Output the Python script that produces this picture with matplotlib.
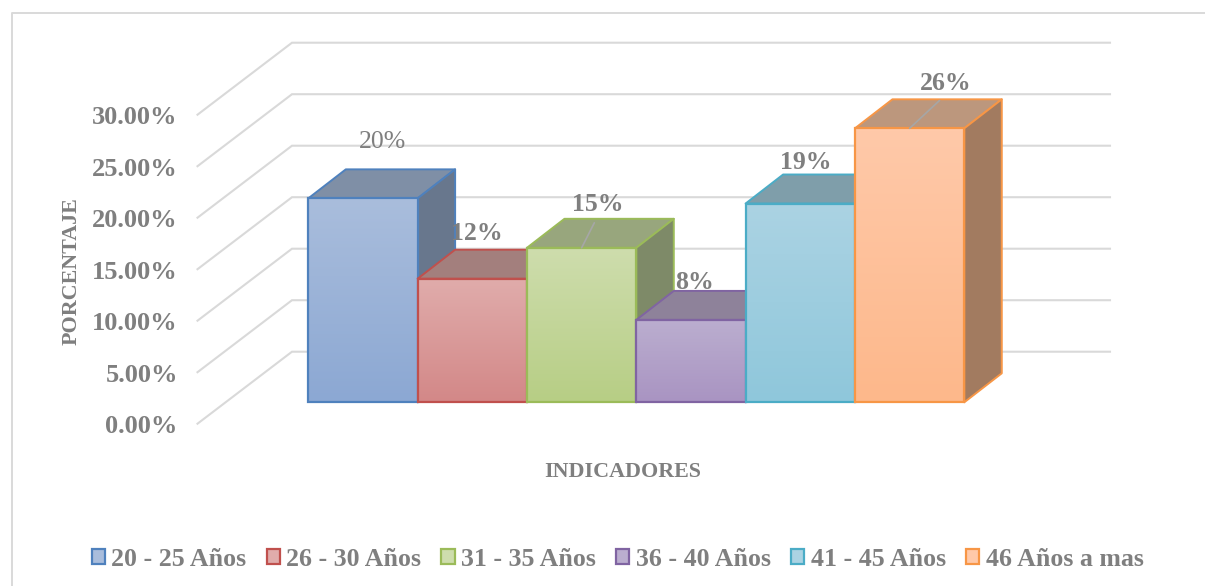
import matplotlib
matplotlib.use("Agg")
import matplotlib.pyplot as plt
import matplotlib.patches as mpatches
import matplotlib.colors as mcolors
import numpy as np

categories = ["20 - 25 Años", "26 - 30 Años", "31 - 35 Años", "36 - 40 Años", "41 - 45 Años", "46 Años a mas"]
heights = [19.8, 12.0, 15.0, 8.0, 19.3, 26.6]
value_labels = ["20%", "12%", "15%", "8%", "19%", "26%"]
y_ticks = [0, 5, 10, 15, 20, 25, 30]
y_tick_labels = ["0.00%", "5.00%", "10.00%", "15.00%", "20.00%", "25.00%", "30.00%"]

# colours per series
edge_colors = ["#4F81BD", "#C0504D", "#9BBB59", "#8064A2", "#4BACC6", "#F79646"]
grad_top = ["#A9BDDC", "#E0ACAB", "#CEDDAD", "#BBAECF", "#ABD3E3", "#FFC9A9"]
grad_bottom = ["#8CA8D3", "#D38888", "#B7CE85", "#A994C2", "#8FC7DB", "#FDB88B"]
top_colors = ["#7F8FA6", "#A37F7D", "#98A67D", "#8E829A", "#7F9EAA", "#BC977D"]
side_colors = ["#68778D", "#8B6A68", "#7E8A68", "#75687F", "#688590", "#A27B60"]

# label placement relative to the top of each bar, in pixels
label_dx = [20, 5, 16, 4, 5, 36]
label_dy = [56, 45, 43, 37, 41, 45]
label_weights = ["normal", "bold", "bold", "bold", "bold", "bold"]
has_leader = [False, False, True, False, False, True]

W, H = 1205, 586
GREY = "#7F7F7F"
FONT = "Liberation Serif"

# one axes over the whole figure, 1 category = 109.33px and 1% = 10.3px
PX_X = 109.33
PX_Y = 10.3
X0, Y0 = 308.3, 402.3

fig = plt.figure(figsize=(W / 100, H / 100), dpi=100)
ax = fig.add_axes([0, 0, 1, 1])
xlim = (-X0 / PX_X, (W - X0) / PX_X)
ylim = (-(H - Y0) / PX_Y, Y0 / PX_Y)
ax.axis("off")

# chart frame, left and top only
fig.add_artist(plt.Line2D([11.5 / W, 11.5 / W, 1], [0, 1 - 12.5 / H, 1 - 12.5 / H], color="#D9D9D9", lw=1.4))

# depth of walls and bars in data units
wall_x = (292 - X0) / PX_X
wall_y = (Y0 - 351.7) / PX_Y
floor_x = (197.5 - X0) / PX_X
floor_y = (Y0 - 423.7) / PX_Y
wall_right = (1110 - X0) / PX_X
bar_dx = 37.5 / PX_X
bar_dy = 29 / PX_Y

for t, lab in zip(y_ticks, y_tick_labels):
    ax.plot([floor_x, wall_x, wall_right], [floor_y + t, wall_y + t, wall_y + t],
            color="#D9D9D9", lw=1.5, zorder=1, solid_joinstyle="miter")
    ax.text(floor_x - 0.18, floor_y + t - 0.3, lab, ha="right", va="center", color=GREY,
            fontsize=19, fontweight="bold", family=FONT, zorder=10)

for i, h in enumerate(heights):
    z = 2 + i
    top = mpatches.Polygon([(i, h), (i + bar_dx, h + bar_dy), (i + 1 + bar_dx, h + bar_dy), (i + 1, h)],
                           facecolor=top_colors[i], edgecolor=edge_colors[i], lw=1.4, zorder=z, joinstyle="round")
    side = mpatches.Polygon([(i + 1, 0), (i + 1 + bar_dx, bar_dy), (i + 1 + bar_dx, h + bar_dy), (i + 1, h)],
                            facecolor=side_colors[i], edgecolor=edge_colors[i], lw=1.4, zorder=z, joinstyle="round")
    ax.add_patch(top)
    ax.add_patch(side)
    # front face with a vertical gradient
    cmap = mcolors.LinearSegmentedColormap.from_list("g%d" % i, [grad_top[i], grad_bottom[i]])
    ax.imshow(np.linspace(0, 1, 64).reshape(-1, 1), cmap=cmap, extent=(i, i + 1, 0, h),
              aspect="auto", origin="upper", zorder=z, interpolation="bilinear")
    front = mpatches.Rectangle((i, 0), 1, h, facecolor="none", edgecolor=edge_colors[i], lw=1.6, zorder=z)
    ax.add_patch(front)

for i, h in enumerate(heights):
    arrow = None
    if has_leader[i]:
        arrow = dict(arrowstyle="-", color="#A6A6A6", lw=1.2, shrinkA=3, shrinkB=0, relpos=(0.5, 0))
    ax.annotate(value_labels[i], xy=(i + 0.5, h), xytext=(label_dx[i], label_dy[i]), textcoords="offset pixels",
                ha="center", va="center", color=GREY, fontsize=18.5, fontweight=label_weights[i],
                family=FONT, arrowprops=arrow, zorder=12)

ax.set_xlim(xlim)
ax.set_ylim(ylim)

fig.text(623 / W, 1 - 472 / H, "INDICADORES", ha="center", va="center", color=GREY,
         fontsize=15.8, fontweight="bold", family=FONT)
fig.text(71.5 / W, 1 - 271 / H, "PORCENTAJE", ha="center", va="center", rotation=90, color=GREY,
         fontsize=15.8, fontweight="bold", family=FONT)

handles = [mpatches.Patch(facecolor=grad_top[i], edgecolor=edge_colors[i], lw=1.6) for i in range(len(categories))]
ax.legend(handles, categories, loc="center", bbox_to_anchor=(617.5 / W, 1 - 559 / H), bbox_transform=fig.transFigure,
          ncol=6, frameon=False, handlelength=0.52, handleheight=0.52, handletextpad=0.25, columnspacing=0.77,
          labelcolor=GREY, prop=dict(family=FONT, weight="bold", size=18.6), borderpad=0, borderaxespad=0)

fig.savefig("out.png", dpi=100)
